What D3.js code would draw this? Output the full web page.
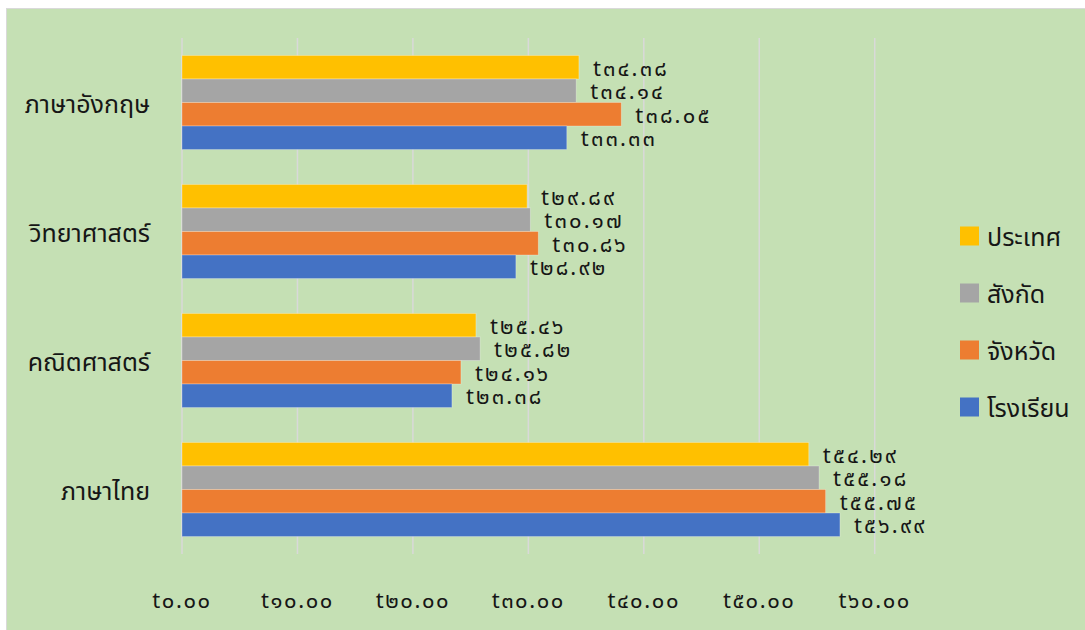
<!DOCTYPE html>
<html><head><meta charset="utf-8">
<script src="https://cdn.jsdelivr.net/npm/d3@7"></script>
<style>
html,body{margin:0;padding:0;background:#fff;}
svg text{font-family:"Noto Sans Thai","Leelawadee UI","Noto Sans",sans-serif;fill:#161616;}
</style></head>
<body>
<svg id="c" width="1085" height="630"></svg>
<script>
const categories = ["ภาษาอังกฤษ", "วิทยาศาสตร์", "คณิตศาสตร์", "ภาษาไทย"];
const seriesNames = ["ประเทศ", "สังกัด", "จังหวัด", "โรงเรียน"];
const seriesColors = ["#FFC000", "#A5A5A5", "#ED7D31", "#4472C4"];
const valuesPrathet = [34.38, 29.89, 25.46, 54.29];
const valuesSangkat = [34.14, 30.17, 25.82, 55.18];
const valuesChangwat = [38.05, 30.86, 24.16, 55.75];
const valuesRongrian = [33.33, 28.92, 23.38, 56.99];
const tickValues = [0, 10, 20, 30, 40, 50, 60];

const seriesValues = [valuesPrathet, valuesSangkat, valuesChangwat, valuesRongrian];
const thaiDigits = "๐๑๒๓๔๕๖๗๘๙";
const toThai = s => String(s).replace(/[0-9]/g, d => thaiDigits[+d]);
const fmt = v => "t" + toThai(v.toFixed(2));

const svg = d3.select("#c");
// frame
svg.append("rect").attr("x", 6).attr("y", 8).attr("width", 1085).attr("height", 630).attr("fill", "#D9D9D9");
svg.append("rect").attr("x", 7).attr("y", 9).attr("width", 1085).attr("height", 630).attr("fill", "#C5E0B4");

const x = d3.scaleLinear().domain([0, 60]).range([182, 874.7]);
const y = d3.scaleBand().domain(categories).range([38, 554]).paddingInner(0.271).paddingOuter(0.1355);
const yi = d3.scaleBand().domain(seriesNames).range([0, y.bandwidth()]);

// gridlines
svg.append("g").selectAll("line").data(tickValues).join("line")
  .attr("x1", d => x(d)).attr("x2", d => x(d))
  .attr("y1", 38).attr("y2", 554)
  .attr("stroke", "#D9D9D9").attr("stroke-width", 1.5);

// bars
const groups = svg.append("g").selectAll("g").data(categories).join("g")
  .attr("transform", c => `translate(0,${y(c)})`);
groups.each(function(c, ci) {
  const g = d3.select(this);
  const rows = seriesNames.map((s, si) => ({s, si, v: seriesValues[si][ci]}));
  g.selectAll("rect").data(rows).join("rect")
    .attr("x", x(0)).attr("y", d => yi(d.s))
    .attr("width", d => x(d.v) - x(0)).attr("height", yi.bandwidth())
    .attr("fill", d => seriesColors[d.si])
    .attr("stroke", "rgba(255,255,255,0.35)").attr("stroke-width", 0.8);
  g.selectAll("text").data(rows).join("text")
    .attr("x", d => x(d.v) + 14).attr("y", d => yi(d.s) + yi.bandwidth() / 2 + 2)
    .attr("dominant-baseline", "central")
    .attr("font-size", 22).attr("letter-spacing", 2.2)
    .text(d => fmt(d.v));
});

// category labels
svg.append("g").selectAll("text").data(categories).join("text")
  .attr("x", 150).attr("y", c => y(c) + y.bandwidth() / 2 + 2)
  .attr("text-anchor", "end").attr("dominant-baseline", "central")
  .attr("font-size", 25).text(c => c);

// x axis tick labels
svg.append("g").selectAll("text").data(tickValues).join("text")
  .attr("x", d => x(d)).attr("y", 601)
  .attr("text-anchor", "middle").attr("dominant-baseline", "central")
  .attr("font-size", 22).attr("letter-spacing", 1.6).text(d => fmt(d));

// legend
const lg = svg.append("g").selectAll("g").data(seriesNames).join("g")
  .attr("transform", (s, i) => `translate(960,${236 + i * 57})`);
lg.append("rect").attr("x", 0).attr("y", -9.5).attr("width", 19).attr("height", 19)
  .attr("fill", (s, i) => seriesColors[i]);
lg.append("text").attr("x", 27).attr("y", 2).attr("dominant-baseline", "central")
  .attr("font-size", 25).text(s => s);
</script>
</body></html>
